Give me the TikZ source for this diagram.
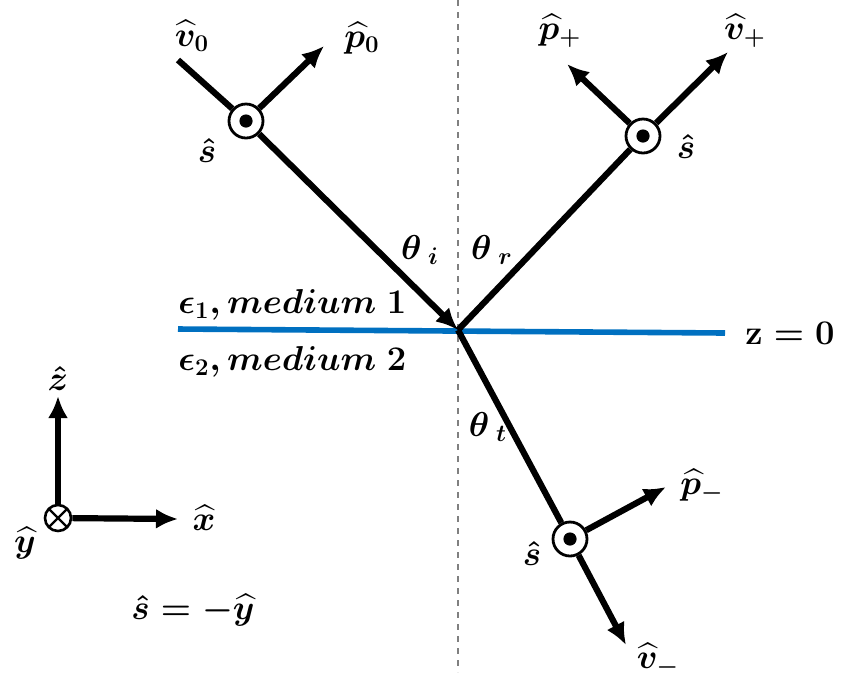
\documentclass[tikz,border=0pt]{standalone}
\usepackage{amsmath,amssymb}
\usepackage{xcolor}
\usepackage{tikz}
\usetikzlibrary{arrows.meta,positioning}

\definecolor{ifblue}{RGB}{0,112,192}

\begin{document}
\begin{tikzpicture}[
    x=0.5pt,y=-0.5pt,
    every node/.style={font=\boldmath\fontsize{17.5}{20}\selectfont, inner sep=1pt},
    ray/.style={line width=3.1pt, black},
    arrow/.style={ray, -{Latex[length=11pt,width=10pt]}},
    dotcirc/.style={circle, draw, line width=1.4pt, fill=white, minimum size=17pt, inner sep=0pt,
                    path picture={\fill[black] (path picture bounding box.center) circle (3.3pt);}},
    crosscirc/.style={circle, draw, line width=1.3pt, fill=white, minimum size=13pt, inner sep=0pt,
                      path picture={\draw[black, line width=1.2pt] (path picture bounding box.north west) -- (path picture bounding box.south east)
                                    (path picture bounding box.north east) -- (path picture bounding box.south west);}},
    normal/.style={gray, dashed, line width=0.6pt},
    iface/.style={ifblue, line width=2.8pt}
]
\useasboundingbox (0,0) rectangle (845,677);

% Interface and normal
\coordinate (O) at (458,330);
\coordinate (ntop) at (458,0);
\coordinate (nbot) at (458,672);
\coordinate (ileft) at (178,329);
\coordinate (iright) at (725,333);
\draw[normal] (ntop) -- (nbot);
\draw[iface] (ileft) -- (iright);

% Incident wave
\coordinate (v0) at (178,60);
\node[dotcirc] (s0) at (246,121) {};
\coordinate (p0) at (324,46);
\draw[ray] (v0) -- (s0);
\draw[arrow] (s0) -- (O);
\draw[arrow] (s0) -- (p0);

% Reflected wave
\node[dotcirc] (sp) at (643,136) {};
\coordinate (vp) at (728,52);
\coordinate (pp) at (567,64);
\draw[ray] (O) -- (sp);
\draw[arrow] (sp) -- (vp);
\draw[arrow] (sp) -- (pp);

% Transmitted wave
\node[dotcirc] (sm) at (570,539) {};
\coordinate (vm) at (626,645);
\coordinate (pm) at (666,487);
\draw[ray] (O) -- (sm);
\draw[arrow] (sm) -- (vm);
\draw[arrow] (sm) -- (pm);

% Labels
\node (lv0) at (192,36) {$\widehat{v}_0$};
\node (lp0) at (362,38) {$\widehat{p}_0$};
\node (ls0) at (207,150) {$\hat{s}$};
\node (lpp) at (560,31) {$\widehat{p}_+$};
\node (lvp) at (745,31) {$\widehat{v}_+$};
\node (lsp) at (686,146) {$\hat{s}$};
\node (lpm) at (702,486) {$\widehat{p}_-$};
\node (lvm) at (658,660) {$\widehat{v}_-$};
\node (lsm) at (532,553) {$\hat{s}$};
\node (thi) at (420,250) {$\theta_{\;i}$};
\node (thr) at (492,250) {$\theta_{\;r}$};
\node (tht) at (488,427) {$\theta_{\;t}$};
\node[anchor=west] (med1) at (176,305) {$\epsilon_1, medium\ 1$};
\node[anchor=west] (med2) at (176,362) {$\epsilon_2, medium\ 2$};
\node (z0) at (790,333) {$\mathrm{z}=0$};

% Coordinate axes
\node[crosscirc] (oy) at (58,518) {};
\coordinate (zt) at (58,396);
\coordinate (xt) at (178,519);
\draw[arrow] (oy) -- (zt);
\draw[arrow] (oy) -- (xt);
\node (lz) at (58,378) {$\hat{z}$};
\node (lx) at (204,518) {$\widehat{x}$};
\node (ly) at (25,543) {$\widehat{y}$};
\node (seq) at (193,610) {$\hat{s}=-\widehat{y}$};
\end{tikzpicture}
\end{document}
